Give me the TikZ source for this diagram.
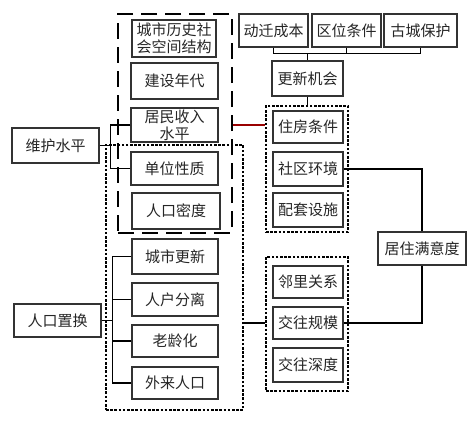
\documentclass[tikz,border=0pt]{standalone}
\usepackage{fontspec}
\setmainfont{Noto Sans CJK SC}
\begin{document}
\begin{tikzpicture}[x=1pt,y=-1pt,
  bx/.style={draw=black!80, line width=1.1pt, inner sep=0pt, align=center,
    font=\fontsize{15}{17}\selectfont, text=black!85},
  dashbox/.style={draw=black, line width=2.2pt, dash pattern=on 16pt off 8pt, inner sep=0pt},
  dotbox/.style={draw=black, line width=2.6pt, dash pattern=on 2.6pt off 1.6pt, inner sep=0pt},
  conn/.style={draw=black, line width=1.2pt},
  redconn/.style={draw=red!60!black, line width=1.2pt}
]
\useasboundingbox (0,0) rectangle (473,423);
\fill[white] (0,0) rectangle (473,423);

% group frames
\node[dashbox, minimum width=114pt, minimum height=219pt] (GA) at (175,123.5) {};
\node[dotbox, minimum width=137pt, minimum height=265pt] (GB) at (174.5,277.5) {};
\node[dotbox, minimum width=82pt, minimum height=126pt] (GC) at (307,169) {};
\node[dotbox, minimum width=82pt, minimum height=134pt] (GD) at (307,324) {};

% left column boxes
\node[bx, minimum width=84pt, minimum height=37pt] (A1) at (174,38.5) {城市历史社\\会空间结构};
\node[bx, minimum width=87pt, minimum height=36pt] (A2) at (174.5,81) {建设年代};
\node[bx, minimum width=87pt, minimum height=34pt] (A3) at (174.5,125) {居民收入\\水平};
\node[bx, minimum width=87pt, minimum height=33pt] (A4) at (174.5,168.5) {单位性质};
\node[bx, minimum width=88pt, minimum height=36pt] (A5) at (176,211) {人口密度};

\node[bx, minimum width=86pt, minimum height=35pt] (B1) at (175,256.5) {城市更新};
\node[bx, minimum width=86pt, minimum height=33pt] (B2) at (175,299.5) {人户分离};
\node[bx, minimum width=86pt, minimum height=32pt] (B3) at (175,341) {老龄化};
\node[bx, minimum width=86pt, minimum height=32pt] (B4) at (175,383) {外来人口};

\node[bx, minimum width=87pt, minimum height=35pt] (wh) at (55.5,145.5) {维护水平};
\node[bx, minimum width=87pt, minimum height=33pt] (rk) at (57.5,320.5) {人口置换};

% top row
\node[bx, minimum width=69pt, minimum height=33pt] (t1) at (273.5,30.5) {动迁成本};
\node[bx, minimum width=69pt, minimum height=33pt] (t2) at (346.5,30.5) {区位条件};
\node[bx, minimum width=73pt, minimum height=33pt] (t3) at (420.5,30.5) {古城保护};
\node[bx, minimum width=71pt, minimum height=35pt] (gx) at (307.5,78.5) {更新机会};

% right column
\node[bx, minimum width=70pt, minimum height=32pt] (C1) at (308,127) {住房条件};
\node[bx, minimum width=70pt, minimum height=34pt] (C2) at (308,169) {社区环境};
\node[bx, minimum width=70pt, minimum height=34pt] (C3) at (308,210) {配套设施};
\node[bx, minimum width=70pt, minimum height=32pt] (D1) at (308,282) {邻里关系};
\node[bx, minimum width=70pt, minimum height=32pt] (D2) at (308,323) {交往规模};
\node[bx, minimum width=70pt, minimum height=34pt] (D3) at (308,365) {交往深度};
\node[bx, minimum width=88pt, minimum height=33pt] (sat) at (422,248.5) {居住满意度};

% connectors
\coordinate (k1) at (111,145.5);
\coordinate (k2) at (113,320.5);
\coordinate (bus) at (307.5,53);

\draw[conn] (A3.west) -- ++(-20,0) |- (A4.west);
\draw[conn] (wh.east) -- (k1);

\draw[conn] (B1.west) -- ++(-19,0) |- (B4.west);
\draw[conn] (B2.west) -- (B2.west -| k2);
\draw[conn] (B3.west) -- (B3.west -| k2);
\draw[conn] (rk.east) -- (k2);

\draw[conn] (t1.south) -- ++(0,6) -| (t3.south);
\draw[conn] (t2.south) -- ++(0,6);
\draw[conn] (bus) -- (gx.north);
\draw[conn] (gx.south) -- (gx.south |- GC.north);

\draw[redconn] (GA.east |- A3) -- (GC.west |- A3);
\draw[conn] (GB.east |- D2) -- (GD.west |- D2);

\draw[conn] (C2.east) -| (sat.north);
\draw[conn] (D2.east) -| (sat.south);
\end{tikzpicture}
\end{document}
